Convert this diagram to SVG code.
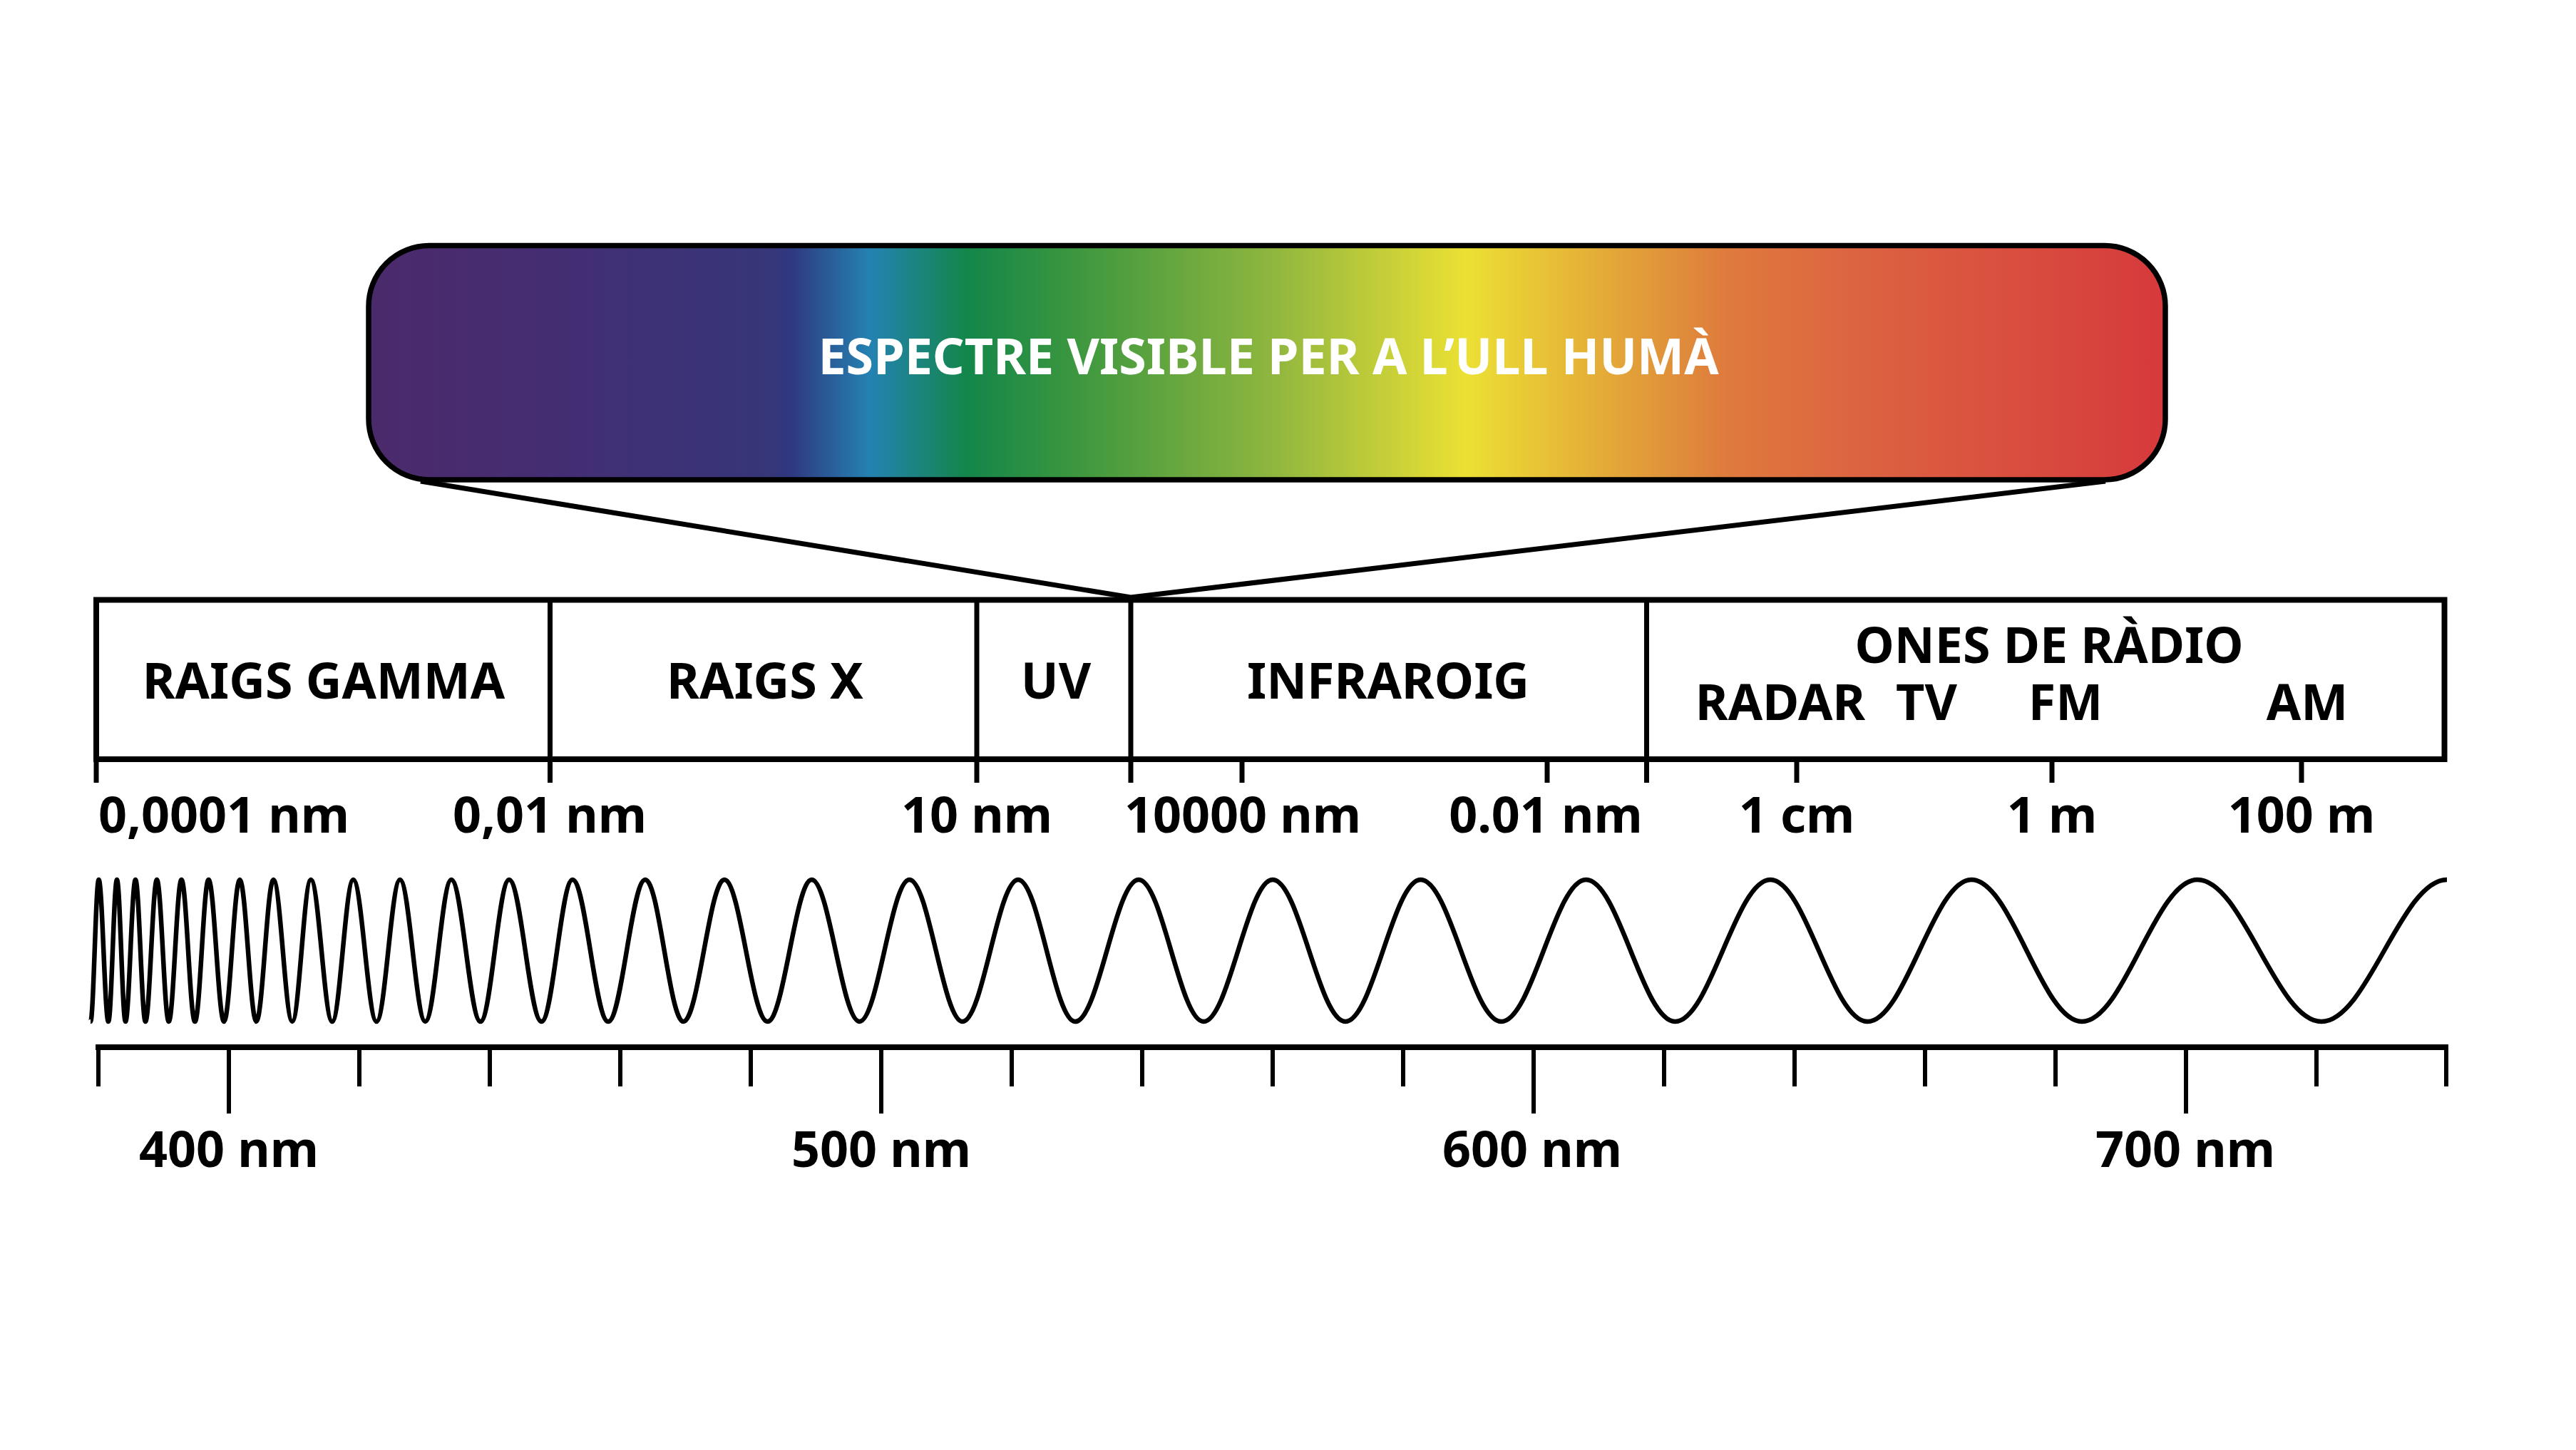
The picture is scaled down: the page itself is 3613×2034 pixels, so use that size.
<svg xmlns="http://www.w3.org/2000/svg" width="3613" height="2034" viewBox="0 0 3613 2034">
  <style>
    .lbl { font-family: "Noto Sans", "Open Sans", "Liberation Sans", sans-serif; font-weight: 700; font-size: 70px; fill: #000; text-anchor: middle; }
    .title { font-family: "Noto Sans", "Open Sans", "Liberation Sans", sans-serif; font-weight: 700; font-size: 70px; fill: #fff; text-anchor: middle; }
    .ln { stroke: #000; stroke-width: 7; fill: none; }
    .thick { stroke: #000; stroke-width: 8; fill: none; }
    .tick { stroke: #000; stroke-width: 6; fill: none; }
  </style>
  <defs>
    <linearGradient id="spec" x1="517" y1="0" x2="3037" y2="0" gradientUnits="userSpaceOnUse">
      <stop offset="0" stop-color="#4B2A6B"/>
      <stop offset="0.096" stop-color="#452D72"/>
      <stop offset="0.224" stop-color="#363679"/>
      <stop offset="0.235" stop-color="#2F3880"/>
      <stop offset="0.279" stop-color="#2482B2"/>
      <stop offset="0.333" stop-color="#13864A"/>
      <stop offset="0.390" stop-color="#3A963F"/>
      <stop offset="0.503" stop-color="#8FB63F"/>
      <stop offset="0.611" stop-color="#ECE034"/>
      <stop offset="0.724" stop-color="#E0913A"/>
      <stop offset="0.756" stop-color="#DF7A3D"/>
      <stop offset="0.827" stop-color="#DC6441"/>
      <stop offset="1" stop-color="#D6393C"/>
    </linearGradient>
  </defs>
  <rect width="3613" height="2034" fill="#fff"/>

  <g id="connectors">
    <polyline class="ln" points="590,675 1586,838 2953,675" stroke-linejoin="miter"/>
  </g>

  <g id="visible-spectrum">
    <rect x="517" y="344.5" width="2520" height="328.5" rx="85" ry="85" fill="url(#spec)" stroke="#000" stroke-width="7.5"/>
    <text class="title" x="1779" y="525">ESPECTRE VISIBLE PER A L’ULL HUMÀ</text>
  </g>

  <g id="bands">
    <rect class="thick" x="135" y="841.5" width="3293.5" height="223.5"/>
    <g id="band-dividers">
      <line class="ln" x1="771.5" y1="841.5" x2="771.5" y2="1098"/>
      <line class="ln" x1="1370" y1="841.5" x2="1370" y2="1098"/>
      <line class="ln" x1="1586" y1="841.5" x2="1586" y2="1098"/>
      <line class="ln" x1="2309.5" y1="841.5" x2="2309.5" y2="1098"/>
      <line class="ln" x1="135" y1="1065" x2="135" y2="1098"/>
      <line class="ln" x1="1742" y1="1065" x2="1742" y2="1098"/>
      <line class="ln" x1="2170" y1="1065" x2="2170" y2="1098"/>
      <line class="ln" x1="2520" y1="1065" x2="2520" y2="1098"/>
      <line class="ln" x1="2878" y1="1065" x2="2878" y2="1098"/>
      <line class="ln" x1="3228" y1="1065" x2="3228" y2="1098"/>
    </g>
    <g id="band-gamma"><text class="lbl" x="454" y="980">RAIGS GAMMA</text></g>
    <g id="band-xray"><text class="lbl" x="1073" y="980">RAIGS X</text></g>
    <g id="band-uv"><text class="lbl" x="1481" y="980">UV</text></g>
    <g id="band-ir"><text class="lbl" x="1947" y="980">INFRAROIG</text></g>
    <g id="band-radio">
      <text class="lbl" x="2874" y="930">ONES DE RÀDIO</text>
      <text class="lbl" x="2497" y="1010">RADAR</text>
      <text class="lbl" x="2702" y="1010">TV</text>
      <text class="lbl" x="2897" y="1010">FM</text>
      <text class="lbl" x="3236" y="1010">AM</text>
    </g>
  </g>

  <g id="wavelength-labels">
    <text class="lbl" x="138" y="1168" text-anchor="start" style="text-anchor:start">0,0001 nm</text>
    <text class="lbl" x="771" y="1168">0,01 nm</text>
    <text class="lbl" x="1370" y="1168">10 nm</text>
    <text class="lbl" x="1743" y="1168">10000 nm</text>
    <text class="lbl" x="2168" y="1168">0.01 nm</text>
    <text class="lbl" x="2520" y="1168">1 cm</text>
    <text class="lbl" x="2878" y="1168">1 m</text>
    <text class="lbl" x="3228" y="1168">100 m</text>
  </g>

  <g id="wave">
    <path fill="none" stroke="#000" stroke-width="6.5" stroke-linejoin="round" d="M127,1433
      C131.18,1433 134.32,1234 138.5,1234
      C143.41,1234 147.09,1433 152,1433
      C156.36,1433 159.64,1234 164,1234
      C168.36,1234 171.64,1433 176,1433
      C181.09,1433 184.91,1234 190,1234
      C195.09,1234 198.91,1433 204,1433
      C209.81,1433 214.19,1234 220,1234
      C226.07,1234 230.63,1433 236.7,1433
      C243.17,1433 248.03,1234 254.5,1234
      C261.37,1234 266.53,1433 273.4,1433
      C280.34,1433 285.56,1234 292.5,1234
      C300.39,1234 306.31,1433 314.2,1433
      C322.23,1433 328.27,1234 336.3,1234
      C344.73,1234 351.07,1433 359.5,1433
      C368.22,1433 374.78,1234 383.5,1234
      C393.09,1234 400.31,1433 409.9,1433
      C419.38,1433 426.52,1234 436,1234
      C446.87,1234 455.03,1433 465.9,1433
      C476.66,1433 484.74,1234 495.5,1234
      C507.35,1234 516.25,1433 528.1,1433
      C540.06,1433 549.04,1234 561,1234
      C573.9,1234 583.6,1433 596.5,1433
      C609.76,1433 619.74,1234 633,1234
      C647.86,1234 659.04,1433 673.9,1433
      C688.47,1433 699.43,1234 714,1234
      C730.53,1234 742.97,1433 759.5,1433
      C775.31,1433 787.19,1234 803,1234
      C821.17,1234 834.83,1433 853,1433
      C871.9,1433 886.1,1234 905,1234
      C924.44,1234 939.06,1433 958.5,1433
      C979.4,1433 995.1,1234 1016,1234
      C1037.99,1234 1054.51,1433 1076.5,1433
      C1099.03,1433 1115.97,1234 1138.5,1234
      C1162.85,1234 1181.15,1433 1205.5,1433
      C1230.94,1433 1250.06,1234 1275.5,1234
      C1302.57,1234 1322.93,1433 1350,1433
      C1378.35,1433 1399.65,1234 1428,1234
      C1457.07,1234 1478.93,1433 1508,1433
      C1540.34,1433 1564.66,1234 1597,1234
      C1630.07,1234 1654.93,1433 1688,1433
      C1723.25,1433 1749.75,1234 1785,1234
      C1822.07,1234 1849.93,1433 1887,1433
      C1925.34,1433 1954.16,1234 1992.5,1234
      C2033.56,1234 2064.44,1433 2105.5,1433
      C2148.74,1433 2181.26,1234 2224.5,1234
      C2269.93,1234 2304.07,1433 2349.5,1433
      C2398.01,1433 2434.49,1234 2483,1234
      C2532.42,1234 2569.58,1433 2619,1433
      C2672.06,1433 2711.94,1234 2765,1234
      C2821.33,1234 2863.67,1433 2920,1433
      C2978.87,1433 3023.13,1234 3082,1234
      C3145.23,1234 3192.77,1433 3256,1433
      C3319.96,1433 3368.04,1234 3432,1234"/>
  </g>

  <g id="visible-scale">
    <line class="thick" x1="134" y1="1469" x2="3434" y2="1469"/>
    <g id="scale-ticks">
      <line class="tick" x1="138" y1="1469" x2="138" y2="1524"/>
      <line class="tick" x1="321" y1="1469" x2="321" y2="1562"/>
      <line class="tick" x1="504" y1="1469" x2="504" y2="1524"/>
      <line class="tick" x1="687" y1="1469" x2="687" y2="1524"/>
      <line class="tick" x1="870" y1="1469" x2="870" y2="1524"/>
      <line class="tick" x1="1053" y1="1469" x2="1053" y2="1524"/>
      <line class="tick" x1="1236" y1="1469" x2="1236" y2="1562"/>
      <line class="tick" x1="1419" y1="1469" x2="1419" y2="1524"/>
      <line class="tick" x1="1602" y1="1469" x2="1602" y2="1524"/>
      <line class="tick" x1="1785" y1="1469" x2="1785" y2="1524"/>
      <line class="tick" x1="1968" y1="1469" x2="1968" y2="1524"/>
      <line class="tick" x1="2151" y1="1469" x2="2151" y2="1562"/>
      <line class="tick" x1="2334" y1="1469" x2="2334" y2="1524"/>
      <line class="tick" x1="2517" y1="1469" x2="2517" y2="1524"/>
      <line class="tick" x1="2700" y1="1469" x2="2700" y2="1524"/>
      <line class="tick" x1="2883" y1="1469" x2="2883" y2="1524"/>
      <line class="tick" x1="3066" y1="1469" x2="3066" y2="1562"/>
      <line class="tick" x1="3249" y1="1469" x2="3249" y2="1524"/>
      <line class="tick" x1="3431" y1="1469" x2="3431" y2="1524"/>
    </g>
    <text class="lbl" x="321" y="1637">400 nm</text>
    <text class="lbl" x="1236" y="1637">500 nm</text>
    <text class="lbl" x="2149" y="1637">600 nm</text>
    <text class="lbl" x="3065" y="1637">700 nm</text>
  </g>
</svg>
